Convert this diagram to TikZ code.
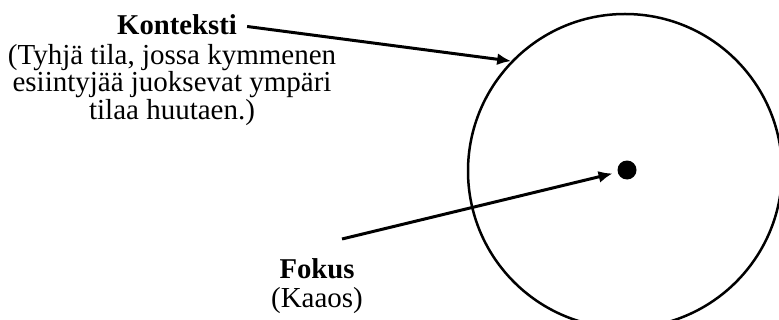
\documentclass[tikz,border=0pt]{standalone}
\usepackage{fontspec}
\setmainfont{Liberation Serif}
\usetikzlibrary{positioning}
\usetikzlibrary{arrows.meta}

\begin{document}
\begin{tikzpicture}[
    x=0.5pt, y=-0.5pt,
    >={Latex[length=7pt,width=6pt]},
    % node styles
    title/.style = {
      inner sep=0pt,
      font=\bfseries\fontsize{14.35pt}{13.8pt}\selectfont
    },
    desc/.style = {
      inner sep=0pt,
      align=center,
      font=\fontsize{14.5pt}{13.8pt}\selectfont
    },
    ring/.style = {
      circle,
      draw,
      line width=1.25pt,
      minimum size=157pt,
      inner sep=0pt
    },
    blob/.style = {
      circle,
      fill,
      minimum size=9.5pt,
      inner sep=0pt
    },
    % arrow styles
    arr/.style = {->, line width=1.5pt}
  ]
  \useasboundingbox (0,0) rectangle (779,320);

  % --- Nodes
  \node[ring] (kont) at (625,171) {};
  \node[blob] (fok) at (627,170) {};

  \node[title, anchor=base] (konttitle) at (177,35) {Konteksti};
  \node[desc, below=4pt of konttitle, xshift=-2.5pt] (kontdesc) {(Tyhjä tila, jossa kymmenen\\esiintyjää juoksevat ympäri\\tilaa huutaen.)};

  \node[title, anchor=base] (foktitle) at (317,278) {Fokus};
  \node[desc, below=4pt of foktitle] (fokdesc) {(Kaaos)};

  % --- Arrows
  \coordinate (fokstart) at (342,239);
  \draw[arr, shorten <=5pt] (konttitle.east) -- (kont.136);
  \draw[arr, shorten >=2.5pt] (fokstart) -- (fok);
\end{tikzpicture}
\end{document}
